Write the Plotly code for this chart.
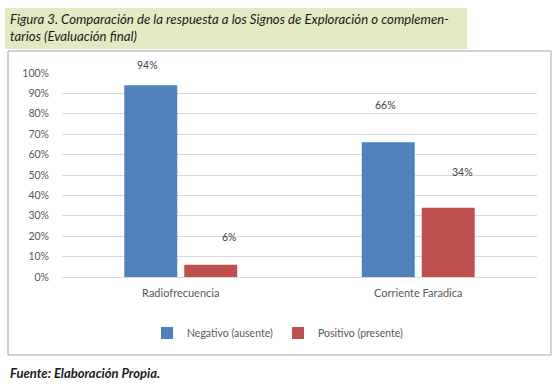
import plotly.graph_objects as go

categories = ["Radiofrecuencia", "Corriente Faradica"]
series_names = ["Negativo (ausente)", "Positivo (presente)"]
negativo = [0.94, 0.66]
positivo = [0.06, 0.34]
y_ticks = [0, 0.1, 0.2, 0.3, 0.4, 0.5, 0.6, 0.7, 0.8, 0.9, 1.0]
y_tick_labels = ["0%", "10%", "20%", "30%", "40%", "50%", "60%", "70%", "80%", "90%", "100%"]

colors = ["#4f81bd", "#c0504d"]
W, H = 560, 384
L, R, T, B = 62, 23, 73, 107
pw, ph = W - L - R, H - T - B

def px(x):
    return (x - L) / pw

def py(y):
    return (H - B - y) / ph

fig = go.Figure()
for name, vals, col in zip(series_names, [negativo, positivo], colors):
    fig.add_trace(go.Bar(x=categories, y=vals, name=name, marker=dict(color=col, line=dict(width=0))))

# data labels
label_font = dict(family="Lato, sans-serif", size=10.5, color="#404040")
offsets = {0: [(0, 20), (0, 37)], 1: [(16, 28), (11, 36)]}
for si, vals in enumerate([negativo, positivo]):
    for ci, v in enumerate(vals):
        dx, dy = offsets[si][ci]
        fig.add_annotation(x=categories[ci], y=v, xref="x", yref="y",
                           text=f"{round(v*100)}%", showarrow=False,
                           xshift=(-33 if si == 0 else 33) + dx, yshift=dy,
                           font=label_font)

# title band
fig.add_shape(type="rect", xref="paper", yref="paper",
              x0=px(5), x1=px(467), y0=py(49), y1=py(8),
              fillcolor="#e3eac3", line=dict(width=0), layer="below")
# chart border
fig.add_shape(type="rect", xref="paper", yref="paper",
              x0=px(8), x1=px(551), y0=py(355), y1=py(51),
              fillcolor="rgba(0,0,0,0)", line=dict(color="#a6a6a6", width=1))

fig.add_annotation(xref="paper", yref="paper", x=px(8), y=py(28), xanchor="left", yanchor="middle",
                   align="left", showarrow=False,
                   text="<i>Figura 3. Comparación de la respuesta a los Signos de Exploración o complemen-</i><br><i>tarios (Evaluación final)</i>",
                   font=dict(family="Lato, sans-serif", size=13.2, color="#1a1a1a"))
fig.add_annotation(xref="paper", yref="paper", x=px(8), y=py(373), xanchor="left", yanchor="middle",
                   showarrow=False,
                   text="<b><i>Fuente: Elaboración Propia.</i></b>",
                   font=dict(family="Lato, sans-serif", size=13, color="#1a1a1a"))

fig.update_layout(
    width=W, height=H,
    margin=dict(l=L, r=R, t=T, b=B, autoexpand=False),
    paper_bgcolor="white", plot_bgcolor="white",
    barmode="group", bargap=0.495, bargroupgap=0.117,
    showlegend=True,
    legend=dict(orientation="h", x=px(278), xanchor="center", y=py(333), yanchor="middle",
                font=dict(family="Lato, sans-serif", size=10.5, color="#595959"),
                itemwidth=30, tracegroupgap=0),
    xaxis=dict(showgrid=False, showline=False, ticks="", ticklabelstandoff=8,
               tickfont=dict(family="Lato, sans-serif", size=11, color="#595959")),
    yaxis=dict(range=[0, 1], tickvals=y_ticks, ticktext=y_tick_labels,
               showgrid=True, gridcolor="#d9d9d9", gridwidth=1,
               zeroline=True, zerolinecolor="#d9d9d9", zerolinewidth=1,
               showline=False, ticks="", ticklabelstandoff=12,
               tickfont=dict(family="Lato, sans-serif", size=10.5, color="#595959")),
)

fig.write_html("out.html", config={"displayModeBar": False})

with open("out.html", encoding="utf-8") as f:
    html = f.read()
html = html.replace("<head>", "<head><style>html,body{margin:0;padding:0;overflow:hidden;}</style>", 1)
with open("out.html", "w", encoding="utf-8") as f:
    f.write(html)
